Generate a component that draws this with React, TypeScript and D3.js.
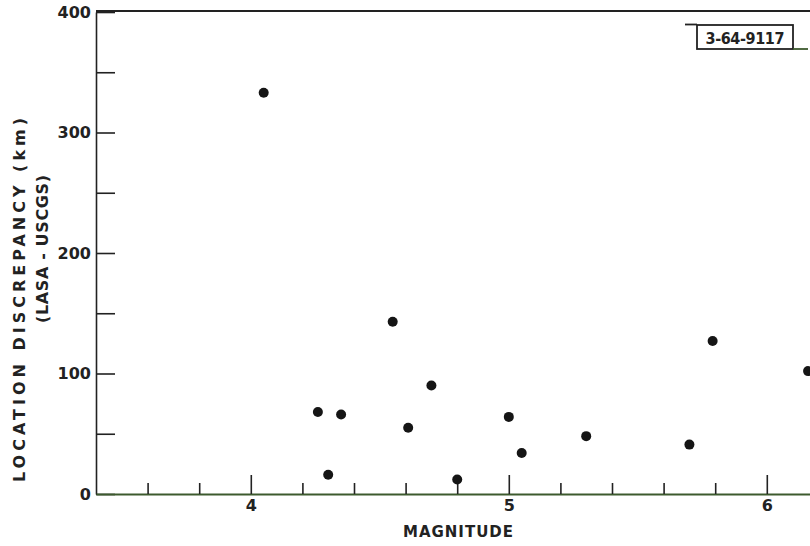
import React, { useEffect, useRef } from 'react';
import * as d3 from 'd3';

// magnitude vs LASA-USCGS location discrepancy (km)
const magnitude = [4.05, 4.26, 4.30, 4.35, 4.55, 4.61, 4.70, 4.80, 5.00, 5.05, 5.30, 5.70, 5.79, 6.16];
const discrepancy = [333, 68, 16, 66, 143, 55, 90, 12, 64, 34, 48, 41, 127, 102];
const yTicks = [0, 50, 100, 150, 200, 250, 300, 350, 400];
const xMajor = [4, 5, 6];
const xMinor = [3.6, 3.8, 4.2, 4.4, 4.6, 4.8, 5.2, 5.4, 5.6, 5.8, 6.2];
const figId = '3-64-9117';

const W = 810, H = 546;
const font = '"DejaVu Sans", Verdana, sans-serif';
const ink = '#222';
const green = '#3d5a2e';

const App = () => {
    const ref = useRef<SVGSVGElement>(null);

    useEffect(() => {
        const svg = d3.select(ref.current);
        svg.selectAll('*').remove();

        const x = d3.scaleLinear().domain([3.4, 6.2]).range([96, 818.4]);
        const y = d3.scaleLinear().domain([0, 400]).range([494, 12]);

        // top frame line
        svg.append('line')
            .attr('x1', x(3.4)).attr('x2', W)
            .attr('y1', 11).attr('y2', 11)
            .attr('stroke', ink).attr('stroke-width', 2);

        // y axis, ticks pointing into the plot
        const gy = svg.append('g')
            .attr('transform', `translate(${x(3.4)},0)`)
            .call(d3.axisLeft(y).tickValues(yTicks).tickSizeInner(-19).tickSizeOuter(0).tickPadding(5)
                .tickFormat((d: any) => (d % 100 === 0 ? String(d) : '')));
        gy.select('.domain').attr('stroke', ink).attr('stroke-width', 1.6);
        gy.selectAll('.tick line').attr('stroke', ink).attr('stroke-width', 1.6);
        gy.selectAll('.tick text')
            .attr('font-family', font).attr('font-size', 16).attr('font-weight', 'bold').attr('fill', ink);

        // x axis: minor then major ticks
        const gxMinor = svg.append('g')
            .attr('transform', `translate(0,${y(0)})`)
            .call(d3.axisBottom(x).tickValues(xMinor).tickSizeInner(-11).tickSizeOuter(0).tickFormat(() => ''));
        gxMinor.select('.domain').attr('stroke', green).attr('stroke-width', 2);
        gxMinor.selectAll('.tick line').attr('stroke', ink).attr('stroke-width', 1.6);

        const gx = svg.append('g')
            .attr('transform', `translate(0,${y(0)})`)
            .call(d3.axisBottom(x).tickValues(xMajor).tickSizeInner(-19).tickSizeOuter(0).tickPadding(6)
                .tickFormat(d3.format('d')));
        gx.select('.domain').remove();
        gx.selectAll('.tick line').attr('stroke', ink).attr('stroke-width', 1.6);
        gx.selectAll('.tick text')
            .attr('font-family', font).attr('font-size', 16).attr('font-weight', 'bold').attr('fill', ink);

        // points
        svg.append('g')
            .selectAll('circle')
            .data(magnitude.map((m, i) => ({ m, d: discrepancy[i] })))
            .join('circle')
            .attr('cx', p => x(p.m))
            .attr('cy', p => y(p.d))
            .attr('r', 5)
            .attr('fill', '#151515');

        // axis titles
        svg.append('text')
            .attr('x', 458).attr('y', 532)
            .attr('text-anchor', 'middle').attr('dominant-baseline', 'central')
            .attr('font-family', font).attr('font-size', 15).attr('font-weight', 'bold')
            .attr('textLength', 110).attr('lengthAdjust', 'spacing').attr('fill', ink)
            .text('MAGNITUDE');

        svg.append('text')
            .attr('transform', 'translate(19,300) rotate(-90)')
            .attr('text-anchor', 'middle').attr('dominant-baseline', 'central')
            .attr('font-family', font).attr('font-size', 16).attr('font-weight', 'bold')
            .attr('textLength', 364).attr('lengthAdjust', 'spacing').attr('fill', ink)
            .text('LOCATION  DISCREPANCY  (km)');

        svg.append('text')
            .attr('transform', 'translate(42,249) rotate(-90)')
            .attr('text-anchor', 'middle').attr('dominant-baseline', 'central')
            .attr('font-family', font).attr('font-size', 16).attr('font-weight', 'bold')
            .attr('textLength', 148).attr('lengthAdjust', 'spacing').attr('fill', ink)
            .text('(LASA - USCGS)');

        // figure number box
        const box = svg.append('g');
        box.append('rect')
            .attr('x', 697).attr('y', 25).attr('width', 96).attr('height', 24)
            .attr('fill', 'none').attr('stroke', ink).attr('stroke-width', 1.8);
        box.append('line')
            .attr('x1', 685).attr('x2', 697).attr('y1', 24.5).attr('y2', 24.5)
            .attr('stroke', ink).attr('stroke-width', 1.8);
        box.append('line')
            .attr('x1', 793).attr('x2', 808).attr('y1', 49).attr('y2', 49)
            .attr('stroke', green).attr('stroke-width', 1.8);
        box.append('text')
            .attr('x', 745).attr('y', 38)
            .attr('text-anchor', 'middle').attr('dominant-baseline', 'central')
            .attr('font-family', '"DejaVu Sans Condensed", "Liberation Sans Narrow", sans-serif')
            .attr('font-size', 16).attr('font-weight', 'bold')
            .attr('textLength', 79).attr('lengthAdjust', 'spacing').attr('fill', ink)
            .text(figId);
    }, []);

    return (
        <svg ref={ref} width={W} height={H}
            style={{ position: 'absolute', left: 0, top: 0, background: '#fff' }} />
    );
};

export default App;
